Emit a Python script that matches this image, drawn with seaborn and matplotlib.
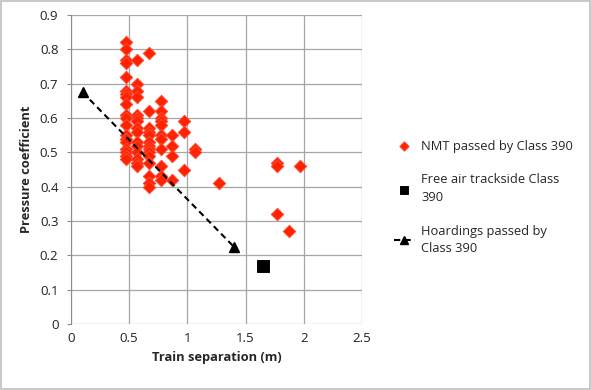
import matplotlib
matplotlib.use("Agg")
import matplotlib.pyplot as plt
import numpy as np
import pandas as pd
import seaborn as sns

# NMT passed by Class 390
nmt_x = (
    [0.47] * 19 + [0.57] * 15 + [0.67] * 14 + [0.77] * 11
    + [0.87] * 4 + [0.97] * 3 + [1.07] * 2 + [1.27] + [1.77] * 3 + [1.87] + [1.97]
)
nmt_y = [
    0.82, 0.80, 0.77, 0.76, 0.72, 0.68, 0.67, 0.66, 0.64, 0.61, 0.60, 0.58, 0.55, 0.54, 0.53, 0.51, 0.50, 0.49, 0.48,
    0.77, 0.70, 0.68, 0.66, 0.61, 0.60, 0.59, 0.57, 0.56, 0.53, 0.52, 0.50, 0.48, 0.47, 0.46,
    0.79, 0.62, 0.57, 0.56, 0.55, 0.53, 0.52, 0.51, 0.50, 0.49, 0.47, 0.43, 0.41, 0.40,
    0.65, 0.62, 0.60, 0.59, 0.58, 0.55, 0.54, 0.51, 0.46, 0.43, 0.42,
    0.55, 0.52, 0.49, 0.42,
    0.59, 0.56, 0.45,
    0.51, 0.50,
    0.41,
    0.47, 0.46, 0.32,
    0.27,
    0.46,
]

# Free air trackside Class 390
free_x = [1.65]
free_y = [0.17]

# Hoardings passed by Class 390
hoard_x = [0.10, 1.40]
hoard_y = [0.675, 0.225]

x_ticks = [0, 0.5, 1, 1.5, 2, 2.5]
y_ticks = [0, 0.1, 0.2, 0.3, 0.4, 0.5, 0.6, 0.7, 0.8, 0.9]

sns.set_style("white")
plt.rcParams["font.family"] = ["Open Sans", "DejaVu Sans"]

fig = plt.figure(figsize=(5.91, 3.90), dpi=100)
ax = fig.add_axes([0.120, 0.169, 0.4925, 0.7925])

nmt = pd.DataFrame({"x": nmt_x, "y": nmt_y})
sns.scatterplot(data=nmt, x="x", y="y", marker="D", s=40, color="#ff2200",
                edgecolor="#ff4a33", linewidth=0.7, ax=ax, zorder=3,
                label="NMT passed by Class 390")

sns.scatterplot(x=free_x, y=free_y, marker="s", s=70, color="black",
                edgecolor="black", ax=ax, zorder=3,
                label="Free air trackside Class\n390")

ax.plot(hoard_x, hoard_y, color="black", linestyle=(0, (3, 2)), linewidth=1.5,
        marker="^", markersize=7, zorder=4, label="Hoardings passed by\nClass 390")

ax.set_xlim(0, 2.5)
ax.set_ylim(0, 0.9)
ax.set_xticks(x_ticks)
ax.set_xticklabels([f"{t:g}" for t in x_ticks])
ax.set_yticks(y_ticks)
ax.set_yticklabels([f"{t:g}" for t in y_ticks])
ax.grid(True, color="#a6a6a6", linewidth=0.9)
ax.set_axisbelow(True)
for side in ["top", "right", "bottom"]:
    ax.spines[side].set_visible(False)
ax.spines["left"].set_color("#8c8c8c")
ax.tick_params(axis="both", labelsize=9.5, length=0, pad=6, colors="#222222")
ax.tick_params(axis="y", left=True, length=3, color="#8c8c8c", direction="out")

ax.set_xlabel("Train separation (m)", fontsize=9.3, fontweight="bold", labelpad=4)
ax.set_ylabel("Pressure coefficient", fontsize=9.3, fontweight="bold", labelpad=5)

leg = ax.legend(loc="center left", bbox_to_anchor=(1.07, 0.41), frameon=False,
                fontsize=9.3, labelspacing=1.6, handlelength=1.6, handletextpad=0.5,
                markerscale=0.75)
for txt in leg.get_texts():
    txt.set_linespacing(1.45)

# light grey outer chart border
fig.patches.append(plt.Rectangle((0.002, 0.003), 0.996, 0.994, transform=fig.transFigure,
                                 fill=False, edgecolor="#bfbfbf", linewidth=1.2))

fig.savefig("out.png", dpi=100)
